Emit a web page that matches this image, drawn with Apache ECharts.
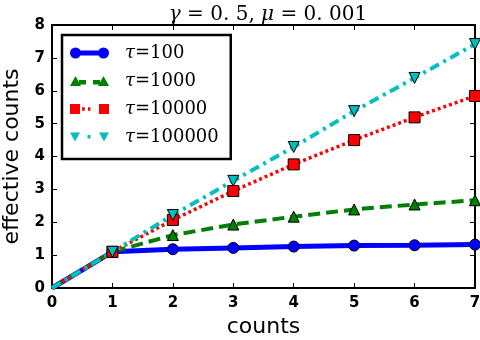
<!DOCTYPE html>
<html>
<head>
<meta charset="utf-8">
<script src="https://cdn.jsdelivr.net/npm/echarts@6/dist/echarts.min.js"></script>
<style>
html, body { margin: 0; padding: 0; background: #fff; }
#chart { width: 480px; height: 340px; }
</style>
</head>
<body>
<div id="chart"></div>
<script>
// values
const counts = [0, 1, 2, 3, 4, 5, 6, 7];
const tau100 = [0, 1.10, 1.18, 1.22, 1.26, 1.29, 1.30, 1.32];
const tau1000 = [0, 1.10, 1.61, 1.93, 2.17, 2.39, 2.54, 2.67];
const tau10000 = [0, 1.10, 2.07, 2.95, 3.76, 4.50, 5.19, 5.84];
const tau100000 = [0, 1.10, 2.22, 3.26, 4.29, 5.38, 6.39, 7.42];
const names = ['τ=100', 'τ=1000', 'τ=10000', 'τ=100000'];

function pts(ys) {
	// no marker at the origin (it is clipped in the original)
	return counts.map((x, i) => i === 0 ? { value: [x, ys[i]], symbol: 'none' } : [x, ys[i]]);
}

const tickFont = { fontFamily: 'DejaVu Sans', fontWeight: 'bold', fontSize: 15, color: '#000' };
const axisLine = { show: true, onZero: false, lineStyle: { color: '#000', width: 2 } };
const tick = { show: true, inside: true, length: 5, lineStyle: { color: '#000', width: 1 } };

function line(name, ys, color, width, type, symbol, size) {
	return {
		name: name,
		type: 'line',
		data: pts(ys),
		symbol: symbol,
		symbolSize: size,
		clip: false,
		lineStyle: { color: color, width: width, type: type },
		itemStyle: { color: color, borderColor: '#000', borderWidth: 1 },
		emphasis: { disabled: true },
		animation: false
	};
}

const downTri = 'path://M0,0 L10,0 L5,10 Z';

// legend samples like matplotlib: a marker at each end, line pieces between (39x11 box)
const legendIcons = [
	'path://M0,5.5 A5.5,5.5 0 1,1 11,5.5 A5.5,5.5 0 1,1 0,5.5 Z M5.5,3 L33.5,3 L33.5,8 L5.5,8 Z M28,5.5 A5.5,5.5 0 1,1 39,5.5 A5.5,5.5 0 1,1 28,5.5 Z',
	'path://M0,11 L5.5,1 L11,11 Z M9,5 L16,5 L16,9.5 L9,9.5 Z M23,5 L30,5 L30,9.5 L23,9.5 Z M28,11 L33.5,1 L39,11 Z',
	'path://M0,0.5 L10,0.5 L10,10.5 L0,10.5 Z M12,3.8 L14.8,3.8 L14.8,7.2 L12,7.2 Z M18,3.8 L20.5,3.8 L20.5,7.2 L18,7.2 Z M29,0.5 L39,0.5 L39,10.5 L29,10.5 Z',
	'path://M0,0.5 L10,0.5 L5,9.5 Z M17.5,3 L20.5,3 L20.5,6.5 L17.5,6.5 Z M29,0.5 L39,0.5 L34,9.5 Z'
];
const legendColors = ['#0000ff', '#008000', '#ff0000', '#00bfbf'];

let myChart = echarts.init(document.getElementById('chart'));
myChart.setOption({
	animation: false,
	title: {
		left: 263, textAlign: 'center', top: 0,
		text: '{i|γ}{n| = 0. 5, }{i|μ}{n| = 0. 001}',
		textStyle: {
			rich: {
				i: { fontFamily: 'DejaVu Serif', fontStyle: 'italic', fontWeight: 'normal', fontSize: 20, color: '#000' },
				n: { fontFamily: 'DejaVu Serif', fontWeight: 'normal', fontSize: 20, color: '#000' }
			}
		}
	},
	grid: { left: 52, top: 25, right: 5, bottom: 52, containLabel: false, outerBoundsMode: 'none' },
	legend: {
		orient: 'vertical',
		left: 62, top: 35,
		padding: [9, 12, 13, 8],
		itemGap: 10,
		itemWidth: 39, itemHeight: 11,
		borderColor: '#000', borderWidth: 2.5, borderRadius: 0,
		backgroundColor: '#fff',
		data: names.map((n, i) => ({
			name: n,
			icon: legendIcons[i],
			itemStyle: { color: legendColors[i], borderWidth: 0 }
		})),
		formatter: n => '{i|τ}{n|' + n.slice(1) + '}',
		textStyle: {
			padding: [0, 0, 0, 11],
			rich: {
				i: { fontFamily: 'DejaVu Serif', fontStyle: 'italic', fontSize: 18, color: '#000' },
				n: { fontFamily: 'DejaVu Serif', fontSize: 18, color: '#000' }
			}
		}
	},
	xAxis: [{
		type: 'value', min: 0, max: 7, interval: 1,
		name: 'counts', nameLocation: 'middle', nameGap: 26,
		nameTextStyle: { fontFamily: 'DejaVu Sans', fontSize: 22, color: '#000' },
		axisLine: axisLine, axisTick: tick,
		axisLabel: Object.assign({ margin: 8 }, tickFont),
		splitLine: { show: false }
	}, {
		type: 'value', min: 0, max: 7, interval: 1, position: 'top',
		axisLine: axisLine, axisTick: tick, axisLabel: { show: false }, splitLine: { show: false }
	}],
	yAxis: [{
		type: 'value', min: 0, max: 8, interval: 1,
		name: 'effective counts', nameLocation: 'middle', nameGap: 26,
		nameTextStyle: { fontFamily: 'DejaVu Sans', fontSize: 22, color: '#000' },
		axisLine: axisLine, axisTick: tick,
		axisLabel: Object.assign({ margin: 7 }, tickFont),
		splitLine: { show: false }
	}, {
		type: 'value', min: 0, max: 8, interval: 1, position: 'right',
		axisLine: axisLine, axisTick: tick, axisLabel: { show: false }, splitLine: { show: false }
	}],
	series: [
		line(names[0], tau100, '#0000ff', 5, 'solid', 'circle', 11),
		line(names[1], tau1000, '#008000', 4, [12, 6], 'triangle', 11),
		line(names[2], tau10000, '#ff0000', 3.5, [3, 3], 'rect', 11),
		line(names[3], tau100000, '#00bfbf', 4, [10, 5, 3, 5], downTri, 11)
	]
});
</script>
</body>
</html>
